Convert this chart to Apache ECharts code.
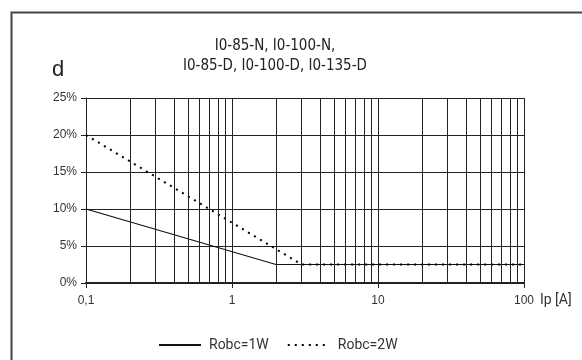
<!DOCTYPE html>
<html>
<head>
<meta charset="utf-8">
<script src="https://cdn.jsdelivr.net/npm/echarts@6/dist/echarts.min.js"></script>
<style>html,body{margin:0;padding:0;background:#fff;}#c{width:582px;height:360px;}</style>
</head>
<body>
<div id="c"></div>
<script>
var titleLines = ['I0-85-N, I0-100-N,', 'I0-85-D, I0-100-D, I0-135-D'];
var seriesNames = ['Robc=1W', 'Robc=2W'];
var robc1W = [[0.1, 10], [2, 2.5], [100, 2.5]];
var robc2W = [[0.1, 20], [3, 2.5], [100, 2.5]];
var minorGridX = [0.2,0.3,0.4,0.5,0.6,0.7,0.8,0.9,2,3,4,5,6,7,8,9,20,30,40,50,60,70,80,90];
var xLabels = {0.1: '0,1', 1: '1', 10: '10', 100: '100'};

var chart = echarts.init(document.getElementById('c'));
chart.setOption({
  animation: false,
  backgroundColor: '#fff',
  graphic: [
    {type: 'rect', shape: {x: 11.5, y: 12.5, width: 700, height: 500}, style: {fill: 'none', stroke: '#444', lineWidth: 2}, silent: true},
    {type: 'text', left: 52, top: 59, style: {text: 'd', font: '22px "Liberation Sans", Arial, sans-serif', fill: '#222'}}
  ],
  title: {
    text: titleLines.join('\n'),
    left: 270, top: 31, textAlign: 'center',
    textStyle: {fontFamily: '"DejaVu Sans Condensed", "DejaVu Sans", sans-serif', fontWeight: 'normal', fontSize: 15, lineHeight: 20, color: '#222'}
  },
  grid: {left: 86, right: 58, top: 98, bottom: 77},
  legend: {
    left: 153, top: 333,
    itemWidth: 42, itemHeight: 10, itemGap: 18,
    itemStyle: {opacity: 0},
    textStyle: {fontFamily: 'Roboto, sans-serif', fontSize: 14, color: '#333', padding: [0, 0, 0, 3]},
    data: seriesNames
  },
  xAxis: {
    type: 'log', logBase: 10, min: 0.1, max: 100,
    name: 'Ip [A]', nameLocation: 'end', nameGap: 6,
    nameTextStyle: {fontFamily: 'Roboto, sans-serif', fontSize: 14, color: '#333', verticalAlign: 'top', padding: [10, 0, 0, 0]},
    axisLine: {lineStyle: {color: '#222', width: 2}},
    axisTick: {show: true, length: 5, lineStyle: {color: '#222'}},
    axisLabel: {margin: 12, fontFamily: '"Liberation Sans", Arial, sans-serif', fontSize: 12, color: '#333',
      formatter: function (v) { var k = Math.round(v * 10) / 10; return xLabels[k] !== undefined ? xLabels[k] : ''; }},
    splitLine: {show: true, lineStyle: {color: '#222', width: 1}}
  },
  yAxis: {
    type: 'value', min: 0, max: 25, interval: 5,
    axisLine: {show: true, lineStyle: {color: '#222', width: 1}},
    axisTick: {show: true, length: 5, lineStyle: {color: '#222'}},
    axisLabel: {margin: 9, fontFamily: '"Liberation Sans", Arial, sans-serif', fontSize: 12, color: '#333', formatter: '{value}%'},
    splitLine: {show: true, lineStyle: {color: '#222', width: 1}}
  },
  series: [
    {
      name: seriesNames[0], type: 'line', data: robc1W, symbol: 'none',
      lineStyle: {color: '#111', width: 1.2, type: 'solid'},
      itemStyle: {color: '#111'},
      markLine: {
        silent: true, symbol: 'none', label: {show: false},
        lineStyle: {color: '#222', width: 1, type: 'solid'},
        data: minorGridX.map(function (v) { return {xAxis: v}; })
      },
      z: 3
    },
    {
      name: seriesNames[1], type: 'line', data: robc2W, symbol: 'none',
      lineStyle: {color: '#000', width: 2, type: [2, 5]},
      itemStyle: {color: '#000'},
      z: 4
    }
  ]
});
</script>
</body>
</html>
